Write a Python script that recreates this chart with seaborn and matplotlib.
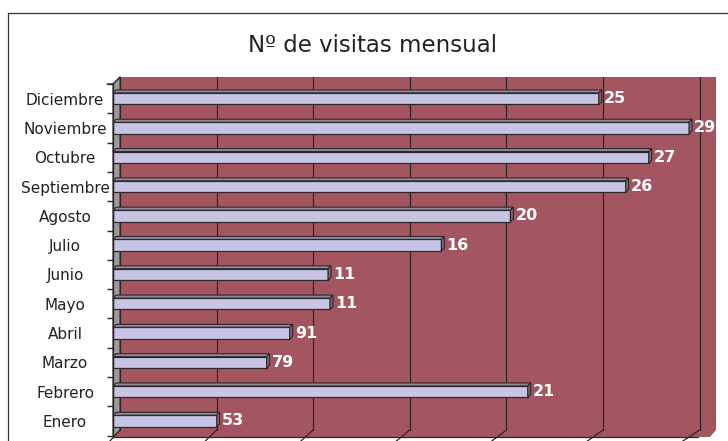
import numpy as np
import pandas as pd
import matplotlib
matplotlib.use("Agg")
import matplotlib.pyplot as plt
import seaborn as sns
from matplotlib.patches import Polygon
from matplotlib.lines import Line2D
from matplotlib.transforms import IdentityTransform, Affine2D, offset_copy

# ---------------- data ----------------
months = ["Diciembre", "Noviembre", "Octubre", "Septiembre", "Agosto", "Julio",
          "Junio", "Mayo", "Abril", "Marzo", "Febrero", "Enero"]
visits = [253, 300, 279, 267, 207, 171, 112, 113, 92, 80, 216, 54]
value_labels = ["25", "29", "27", "26", "20", "16", "11", "11", "91", "79", "21", "53"]
grid_values = [0, 50, 100, 150, 200, 250, 300]
title = "Nº de visitas mensual"

# ---------------- style ----------------
sns.set_theme(style="white")
plt.rcParams["font.family"] = ["DejaVu Sans"]

W, H, DPI = 728, 441, 100
WALL = "#A45660"
SIDE = "#9C9C9C"
FACE = "#C7C5E3"
TOP = "#8E8A9C"
CAP = "#6E6A78"
DARK = "#2E2628"
TXT = "#222222"

fig = plt.figure(figsize=(W / DPI, H / DPI), dpi=DPI)
fig.patch.set_facecolor("white")

# pixel transform (image coords, y downward)
PIX = Affine2D().scale(1, -1).translate(0, H)

# front-plane axes
LEFT, RIGHT, TOPY, BOTY = 113, 716, 84, 437
SCALE = 1.92          # px per unit
ROW0, ROWSTEP = 98, 29.36
ax = fig.add_axes([LEFT / W, (H - BOTY) / H, (RIGHT - LEFT) / W, (BOTY - TOPY) / H])
ax.set_zorder(2)

df = pd.DataFrame({"mes": months, "visitas": visits})
sns.barplot(data=df, x="visitas", y="mes", order=months, orient="h", width=0.39,
            color=FACE, saturation=1, edgecolor=DARK, linewidth=0.9, ax=ax, zorder=4)

ax.set_xlim(0, (RIGHT - LEFT) / SCALE)
ax.set_ylim(11 + (BOTY - (ROW0 + 11 * ROWSTEP)) / ROWSTEP, -(ROW0 - TOPY) / ROWSTEP)
ax.patch.set_visible(False)
for s in ["top", "right", "bottom"]:
    ax.spines[s].set_visible(False)
ax.spines["left"].set_color(DARK)
ax.spines["left"].set_linewidth(1.0)
ax.spines["left"].set_zorder(6)
ax.set_xlabel("")
ax.set_ylabel("")
ax.set_xticks([])
ax.set_yticks(range(len(months)))
ax.set_yticklabels(months)
ax.set_yticks(np.arange(-0.5, len(months), 1), minor=True)
ax.tick_params(axis="y", which="major", length=0, pad=48 * 0.72, labelsize=11, labelcolor=TXT)
ax.tick_params(axis="y", which="minor", length=6 * 0.72, width=1, color=DARK, left=True)
for lab in ax.get_yticklabels():
    lab.set_horizontalalignment("center")

# ---------------- 3D walls ----------------
D = 7
back = Polygon([(LEFT + D, TOPY - D), (RIGHT, TOPY - D), (RIGHT, BOTY - D), (LEFT + D, BOTY - D)],
               closed=True, facecolor=WALL, edgecolor="none", transform=PIX, zorder=0.5)
fig.add_artist(back)
floor = Polygon([(LEFT, BOTY), (RIGHT - 6, BOTY), (RIGHT, BOTY - D), (LEFT + D, BOTY - D)],
                closed=True, facecolor=WALL, edgecolor="none", transform=PIX, zorder=0.6)
fig.add_artist(floor)
side = Polygon([(LEFT, TOPY), (LEFT + D, TOPY - D), (LEFT + D, BOTY - D), (LEFT, BOTY)],
               closed=True, facecolor=SIDE, edgecolor=DARK, linewidth=0.8, transform=PIX, zorder=1.5)
fig.add_artist(side)
fig.add_artist(Line2D([LEFT, RIGHT - 18], [BOTY, BOTY], color=DARK, lw=0.9, transform=PIX, zorder=1.6))
fig.add_artist(Line2D([LEFT - 6, LEFT, LEFT + D], [TOPY, TOPY, TOPY - D], color=DARK, lw=0.9,
                      transform=PIX, zorder=1.6))

fig.canvas.draw()
# gridlines on back wall and floor, derived from the data scale
for v in grid_values:
    xd, _ = ax.transData.transform((v, 0))
    xf = xd - v * 0.012
    xb = xd + D + v * 0.012
    fig.add_artist(Line2D([xb, xb], [TOPY - D, BOTY - D], color=DARK, lw=0.9,
                          transform=PIX, zorder=1))
    fig.add_artist(Line2D([xb, xf - 4], [BOTY - D, H + 1], color=DARK, lw=0.9,
                          transform=PIX, zorder=1))

# 3D bar faces
d = 3
for p in ax.patches:
    bb = p.get_window_extent()
    x0, y0, x1, y1 = bb.x0, bb.y0, bb.x1, bb.y1
    topf = Polygon([(x0, y1), (x1, y1), (x1 + d, y1 + d), (x0 + d, y1 + d)], closed=True,
                   facecolor=TOP, edgecolor=DARK, linewidth=0.8, transform=IdentityTransform(),
                   zorder=3.5)
    cap = Polygon([(x1, y0), (x1 + d, y0 + d), (x1 + d, y1 + d), (x1, y1)], closed=True,
                  facecolor=CAP, edgecolor=DARK, linewidth=0.8, transform=IdentityTransform(),
                  zorder=3.5)
    fig.add_artist(topf)
    fig.add_artist(cap)

# value labels
lab_tr = offset_copy(ax.transData, fig=fig, x=d + 2, y=0, units="dots")
for i, (v, t) in enumerate(zip(visits, value_labels)):
    ax.text(v, i, t, transform=lab_tr, ha="left", va="center", color="white",
            fontsize=11.5, fontweight="bold", zorder=7, clip_on=False)

# title and chart border
fig.text(373 / W, 1 - 45 / H, title, ha="center", va="center", fontsize=16.5, color=TXT)
fig.add_artist(Line2D([8, 8, W], [H + 2, 13, 13], color="#333333", lw=0.9, transform=PIX))

fig.savefig("out.png", dpi=DPI, facecolor="white")
